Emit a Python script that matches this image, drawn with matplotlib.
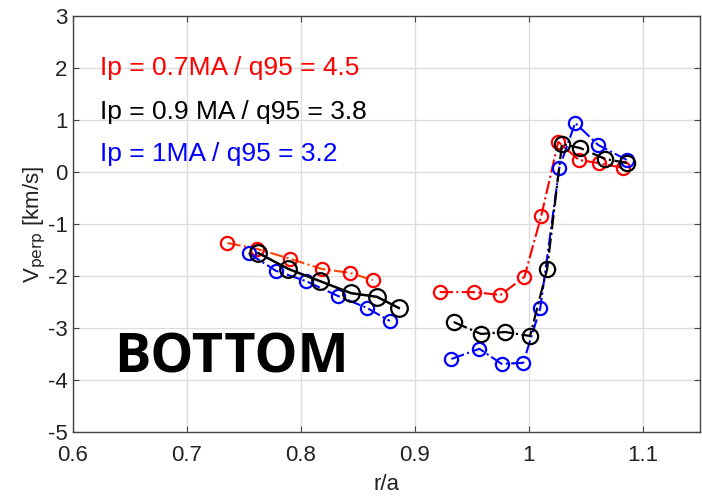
import matplotlib
matplotlib.use("Agg")
import matplotlib.pyplot as plt

plt.rcParams["axes.unicode_minus"] = False

# Red: Ip = 0.7MA
red_in_x = [0.7355, 0.7617, 0.7906, 0.8185, 0.843, 0.863]
red_in_y = [-1.365, -1.48, -1.67, -1.865, -1.94, -2.08]
red_out_x = [0.9217, 0.9514, 0.975, 0.996, 1.0108, 1.0257, 1.044, 1.0615, 1.0825]
red_out_y = [-2.31, -2.31, -2.365, -2.02, -0.846, 0.577, 0.23, 0.17, 0.077]

# Black: Ip = 0.9MA
blk_in_x = [0.7626, 0.789, 0.8168, 0.8439, 0.8666, 0.8858]
blk_in_y = [-1.56, -1.865, -2.10, -2.33, -2.40, -2.615]
blk_out_x = [0.934, 0.958, 0.979, 1.001, 1.016, 1.029, 1.045, 1.067, 1.086]
blk_out_y = [-2.885, -3.115, -3.077, -3.154, -1.865, 0.538, 0.46, 0.25, 0.173]

# Blue: Ip = 1MA
blu_in_x = [0.754, 0.778, 0.8045, 0.8325, 0.858, 0.878]
blu_in_y = [-1.56, -1.90, -2.10, -2.385, -2.615, -2.865]
blu_out_x = [0.932, 0.9566, 0.976, 0.995, 1.010, 1.0266, 1.0406, 1.0607, 1.086]
blu_out_y = [-3.596, -3.40, -3.69, -3.67, -2.615, 0.077, 0.942, 0.52, 0.23]

labels = ["Ip = 0.7MA / q95 = 4.5", "Ip = 0.9 MA / q95 = 3.8", "Ip = 1MA / q95 = 3.2"]
label_colors = ["#ff0000", "#000000", "#0000ff"]
label_y = [2.0, 1.15, 0.35]
xticks = [0.6, 0.7, 0.8, 0.9, 1.0, 1.1]
xtick_labels = ["0.6", "0.7", "0.8", "0.9", "1", "1.1"]
yticks = [-5, -4, -3, -2, -1, 0, 1, 2, 3]

tick_font = "Liberation Sans"

fig = plt.figure(figsize=(7.02, 4.98), dpi=100)
ax = fig.add_axes([0.104, 0.1325, 0.893, 0.8355])

mk = dict(marker="o", markerfacecolor="none", markeredgewidth=1.6)
ax.plot(red_in_x, red_in_y, color="#ff4400", ls="-.", lw=1.5, markeredgecolor="#ff0000", markersize=9.5, **mk)
ax.plot(red_out_x, red_out_y, color="#ff0000", ls="-.", lw=1.5, markeredgecolor="#ff0000", markersize=9.5, **mk)
ax.plot(blu_in_x, blu_in_y, color="#0000ff", ls="-.", lw=1.5, markeredgecolor="#0000ff", markersize=9.5, **mk)
ax.plot(blu_out_x, blu_out_y, color="#0000ff", ls="-.", lw=1.5, markeredgecolor="#0000ff", markersize=9.5, **mk)
ax.plot(blk_in_x, blk_in_y, color="#000000", ls="-", lw=1.8, markeredgecolor="#000000", markersize=12, **mk)
ax.plot(blk_out_x, blk_out_y, color="#000000", ls="-.", lw=1.6, markeredgecolor="#000000", markersize=11, **mk)

ax.set_xlim(0.6, 1.15)
ax.set_ylim(-5, 3)
ax.set_xticks(xticks)
ax.set_xticklabels(xtick_labels)
ax.set_yticks(yticks)
ax.grid(True, color="#dddddd", lw=1)
ax.set_axisbelow(True)
ax.tick_params(direction="in", top=True, right=True, length=4, color="#444444",
               labelsize=16, labelcolor="#222222")
ax.tick_params(axis="x", pad=9)
ax.tick_params(axis="y", pad=4)
for lab in ax.get_xticklabels() + ax.get_yticklabels():
    lab.set_family(tick_font)
for s in ax.spines.values():
    s.set_color("#444444")
    s.set_linewidth(1.0)

ax.set_xlabel("r/a", fontsize=16, family=tick_font, color="#222222", labelpad=6)
ax.set_ylabel(r"V$_{\rm perp}$ [km/s]", fontsize=16, family=tick_font, color="#222222", labelpad=0)

for t, c, yy in zip(labels, label_colors, label_y):
    ax.text(0.6235, yy, t, color=c, fontsize=19, family="Liberation Sans",
            va="center", ha="left")

ax.text(0.636, -3.58, "BOTTOM", fontsize=39, fontweight="bold", family="Open Sans",
        va="center", ha="left", color="#000000")

fig.savefig("out.png", dpi=100)
